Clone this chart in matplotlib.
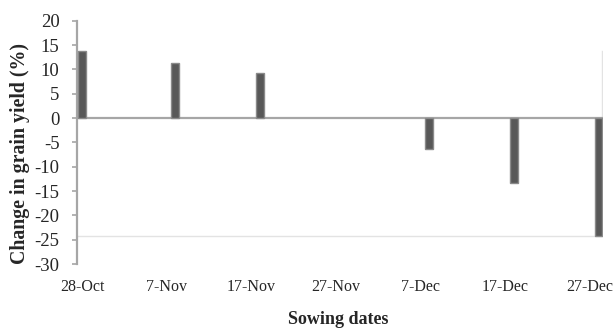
import matplotlib
matplotlib.use("Agg")
import matplotlib.pyplot as plt
import matplotlib.dates as mdates
import datetime as dt

# данные
sowing_dates = ["2019-10-28", "2019-11-08", "2019-11-18", "2019-12-08", "2019-12-18", "2019-12-28"]
change_pct = [13.7, 11.3, 9.3, -6.3, -13.4, -24.3]
tick_dates = ["2019-10-28", "2019-11-07", "2019-11-17", "2019-11-27", "2019-12-07", "2019-12-17", "2019-12-27"]
tick_labels = ["28-Oct", "7-Nov", "17-Nov", "27-Nov", "7-Dec", "17-Dec", "27-Dec"]

plt.rcParams["font.family"] = ["Liberation Serif", "DejaVu Serif"]
plt.rcParams["axes.unicode_minus"] = False

x = [dt.datetime.strptime(d, "%Y-%m-%d") for d in sowing_dates]
xt = [dt.datetime.strptime(d, "%Y-%m-%d") for d in tick_dates]

fig = plt.figure(figsize=(6.13, 3.33), dpi=100)
ax = fig.add_axes([0.1256, 0.2072, 0.8581, 0.7306])

ax.bar(x, change_pct, width=0.9, color="#585858", edgecolor="#8a8a8a", linewidth=1, zorder=3)

x0 = mdates.date2num(x[0]) - 0.6
x1 = mdates.date2num(xt[-1]) + 1.53
ax.set_xlim(x0, x1)
ax.set_ylim(-30, 20)

# нулевая линия и светлая рамка
ax.axhline(0, color="#a6a6a6", linewidth=1.6, zorder=2)
ax.plot([x0, x1], [min(change_pct)] * 2, color="#e3e3e3", linewidth=1, zorder=1)
ax.plot([x1 - 0.15] * 2, [min(change_pct), max(change_pct)], color="#e3e3e3", linewidth=1, zorder=1)

ax.set_xticks(mdates.date2num(xt))
ax.set_xticklabels(tick_labels)
ax.set_yticks(range(-30, 21, 5))

for s in ["top", "right", "bottom"]:
    ax.spines[s].set_visible(False)
ax.spines["left"].set_color("#a6a6a6")
ax.spines["left"].set_linewidth(1.6)

ax.tick_params(axis="y", length=3.6, width=1.2, color="#a6a6a6", pad=9, labelsize=13.5, labelcolor="#262626")
ax.tick_params(axis="x", length=0, pad=11, labelsize=11.5, labelcolor="#262626")

fig.text(0.033, 1 - 153 / 333, "Change in grain yield (%)", rotation=90, ha="center", va="center",
         fontsize=14.3, fontweight="bold", color="#262626")
fig.text(0.551, 1 - 319 / 333, "Sowing dates", ha="center", va="center",
         fontsize=13, fontweight="bold", color="#262626")

fig.savefig("out.png", dpi=100)
